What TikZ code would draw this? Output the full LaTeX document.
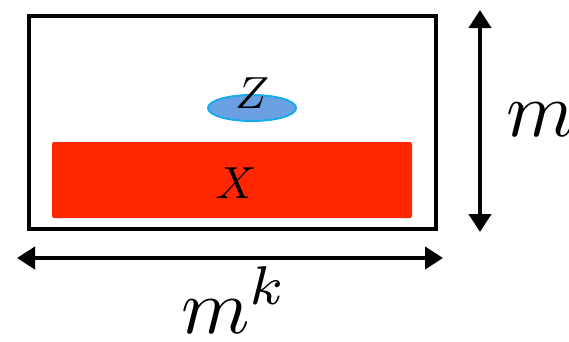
\documentclass[tikz,border=0pt]{standalone}
\usetikzlibrary{arrows.meta,shapes.geometric}
\definecolor{boxred}{RGB}{255,38,0}
\definecolor{zfill}{RGB}{105,160,225}
\definecolor{zline}{RGB}{25,170,235}
\newcommand{\hugemath}[1]{\scalebox{7.8}{$#1$}}
\newcommand{\midmath}[1]{\scalebox{4.5}{$#1$}}
\begin{document}
\begin{tikzpicture}[x=1pt,y=-1pt,
  dimarrow/.style={line width=4pt,{Triangle[width=22pt,length=18pt]}-{Triangle[width=22pt,length=18pt]}},
  mathlabel/.style={inner sep=0pt}]
\useasboundingbox (0,0) rectangle (569,341);
\node[draw,line width=4pt,minimum width=407pt,minimum height=213pt,inner sep=0pt] (frame) at (232.5,122) {};
\node[fill=boxred,rounded corners=2pt,minimum width=360pt,minimum height=76pt,inner sep=0pt] (x) at (232,180) {};
\node[mathlabel] (xl) at (236,183) {\midmath{X}};
\node[ellipse,draw=zline,fill=zfill,line width=2pt,minimum width=88pt,minimum height=26pt,inner sep=0pt] (z) at (252,108) {};
\node[mathlabel,anchor=base] (zl) at (252,108) {\midmath{Z}};
\coordinate (vt) at (480,10);
\coordinate (vb) at (480,232);
\draw[dimarrow] (vt) -- (vb);
\coordinate (hl) at (17,258);
\coordinate (hr) at (443,258);
\draw[dimarrow] (hl) -- (hr);
\node[mathlabel,anchor=base west] (m) at (506,136) {\hugemath{m}};
\node[mathlabel,anchor=base west] (mk) at (181,333) {\hugemath{m^k}};
\end{tikzpicture}
\end{document}
